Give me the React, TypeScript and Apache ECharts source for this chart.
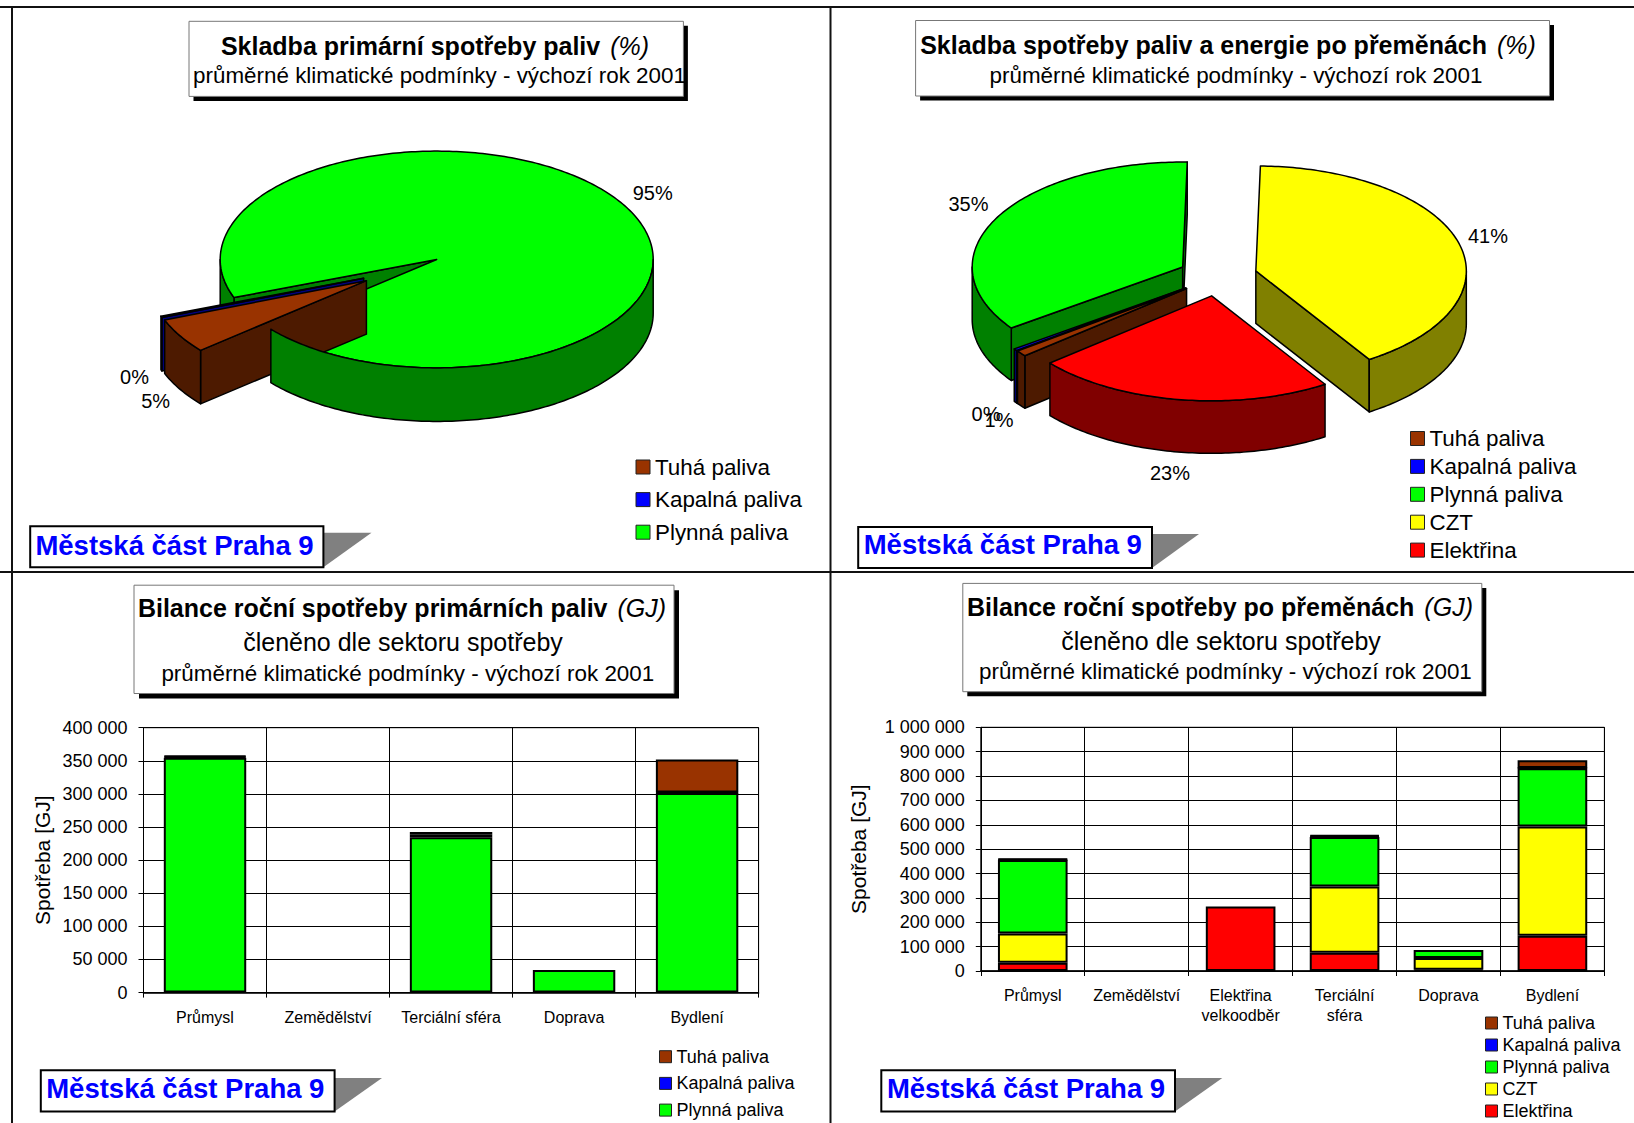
import React, { useEffect, useRef } from "react";
import * as echarts from "echarts";

// ---------- data ----------
const legendPrimary = ["Tuhá paliva", "Kapalná paliva", "Plynná paliva"];
const legendFinal = ["Tuhá paliva", "Kapalná paliva", "Plynná paliva", "CZT", "Elektřina"];

const pieNamesPrimary = ["Tuhá paliva", "Kapalná paliva", "Plynná paliva"];
const pieValuesPrimary = [5.2, 0.2, 94.6];
const pieNamesFinal = ["Tuhá paliva", "Kapalná paliva", "Plynná paliva", "CZT", "Elektřina"];
const pieValuesFinal = [0.9, 0.3, 35.2, 40.6, 23];

const sectorsPrimary = ["Průmysl", "Zemědělství", "Terciální sféra", "Doprava", "Bydlení"];
const primaryPlynna = [354500, null, 234500, 34000, 301500];
const primaryKapalna = [1500, null, 4000, null, 500];
const primaryTuha = [1500, null, 4000, null, 50000];

const sectorsFinal = ["Průmysl", "Zemědělství", "Elektřina\nvelkoodběr", "Terciální\nsféra", "Doprava", "Bydlení"];
const finalElektrina = [34000, null, 265000, 75000, 5000, 145000];
const finalCzt = [120000, null, null, 272000, 48000, 448000];
const finalPlynna = [301000, null, null, 203000, 33000, 239000];
const finalKapalna = [2500, null, null, 3000, null, 1000];
const finalTuha = [2500, null, null, 4000, null, 32000];

const titleMain = [
  "Skladba primární spotřeby paliv",
  "Skladba spotřeby paliv a energie po přeměnách",
  "Bilance roční spotřeby primárních paliv",
  "Bilance roční spotřeby po přeměnách",
];
const titleUnit = ["(%)", "(%)", "(GJ)", "(GJ)"];
const subClimate = "průměrné klimatické podmínky - výchozí rok 2001";
const subSector = "členěno dle sektoru spotřeby";
const badgeText = "Městská část Praha 9";
const axisName = "Spotřeba [GJ]";

// ---------- styles ----------
const FONT = '"Liberation Sans", Arial, sans-serif';
const TOP: Record<string, string> = {
  "Tuhá paliva": "#993300",
  "Kapalná paliva": "#0000ff",
  "Plynná paliva": "#00ff00",
  CZT: "#ffff00",
  "Elektřina": "#ff0000",
};
const SIDE: Record<string, string> = {
  "Tuhá paliva": "#4d1a00",
  "Kapalná paliva": "#000080",
  "Plynná paliva": "#008000",
  CZT: "#808000",
  "Elektřina": "#800000",
};

const pieA = {
  names: pieNamesPrimary, values: pieValuesPrimary,
  cx: 436.7, cy: 259.5, rx: 216.5, ry: 108.4, depth: 53.5, start: 230,
  explode: [82, 82, 0], dir: [239, 243, 0],
  layer: [3, 2, 1], wallLayer: [3, 2, 9],
  labels: [[155.6, 400.8], [134.5, 377], [652.7, 192.5]],
};
const pieB = {
  names: pieNamesFinal, values: pieValuesFinal,
  cx: 1217.7, cy: 276.3, rx: 210.5, ry: 105, depth: 52.5, start: 230.2,
  explode: [39.6, 39.6, 39.6, 39.6, 39.6], dir: [null, null, null, null, null],
  layer: [4, 3, 1, 2, 5], wallLayer: [4, 3, 1, 2, 5],
  labels: [[999, 420], [986, 414], [968.5, 203.5], [1488, 235.8], [1170, 473]],
};

const rad = (d: number) => (d * Math.PI) / 180;

function pieRenderer(p: any) {
  const total = p.values.reduce((a: number, b: number) => a + b, 0);
  return (params: any, api: any) => {
    const i = params.dataIndex;
    const v = api.value(0);
    let before = 0;
    for (let k = 0; k < i; k++) before += p.values[k];
    const a0 = p.start + (before / total) * 360;
    const a1 = a0 + (v / total) * 360;
    const mid = p.dir[i] == null ? (a0 + a1) / 2 : p.dir[i];
    const cx = p.cx + p.explode[i] * Math.sin(rad(mid));
    const cy = p.cy - (p.explode[i] * p.ry * Math.cos(rad(mid))) / p.rx;
    const pt = (a: number, dz = 0) => [cx + p.rx * Math.sin(rad(a)), cy - p.ry * Math.cos(rad(a)) + dz];
    const arc = (s: number, e: number, dz = 0) => {
      const out: number[][] = [];
      const n = Math.max(2, Math.ceil(Math.abs(e - s)));
      for (let j = 0; j <= n; j++) out.push(pt(s + ((e - s) * j) / n, dz));
      return out;
    };
    const name = p.names[i];
    const base = { stroke: "#000", lineWidth: 1.5, lineJoin: "round" };
    const side = { ...base, fill: SIDE[name] };
    const children: any[] = [];
    const z = p.layer[i] * 10;
    const cut = (a: number) => ({
      type: "polygon", z2: z,
      shape: { points: [[cx, cy], pt(a), pt(a, p.depth), [cx, cy + p.depth]] },
      style: side,
    });
    if (Math.sin(rad(a0)) < 0) children.push(cut(a0));
    if (Math.sin(rad(a1)) > 0) children.push(cut(a1));
    children.push({
      type: "polygon", z2: z + 2,
      shape: { points: [[cx, cy], ...arc(a0, a1)] },
      style: { ...base, fill: TOP[name] },
    });
    for (let k = -1; k <= 2; k++) {
      const s = Math.max(a0, 90 + 360 * k);
      const e = Math.min(a1, 270 + 360 * k);
      if (e > s) {
        const wallZ = e === a1 ? p.wallLayer[i] * 10 + 1 : z + 1;
        children.push({
          type: "polygon", z2: wallZ,
          shape: { points: [...arc(s, e), ...arc(s, e, p.depth).reverse()] },
          style: side,
        });
      }
    }
    children.push({
      type: "text", z2: 200,
      style: {
        text: `${Math.round(v)}%`, x: p.labels[i][0], y: p.labels[i][1],
        fontSize: 20, fontFamily: FONT, fill: "#000",
        textAlign: "center", textVerticalAlign: "middle",
      },
    });
    return { type: "group", children };
  };
}

function titleBox(x0: number, y0: number, x1: number, y1: number, shadow: number) {
  return [
    { type: "rect", z: 10, shape: { x: x0 + shadow, y: y0 + shadow, width: x1 - x0, height: y1 - y0 }, style: { fill: "#000" } },
    { type: "rect", z: 11, shape: { x: x0, y: y0, width: x1 - x0, height: y1 - y0 }, style: { fill: "#fff", stroke: "#777", lineWidth: 1 } },
  ];
}
function titleText(i: number, x: number, y: number) {
  return {
    type: "text", z: 12, x, y,
    style: {
      text: `{b|${titleMain[i]}}{s|  }{i|${titleUnit[i]}}`,
      textAlign: "center", textVerticalAlign: "middle",
      rich: {
        b: { fontSize: 25, fontWeight: "bold", fontFamily: FONT, fill: "#000" },
        s: { fontSize: 18, fontFamily: FONT },
        i: { fontSize: 25, fontStyle: "italic", fontFamily: FONT, fill: "#000" },
      },
    },
  };
}
function subText(t: string, size: number, x: number, y: number) {
  return {
    type: "text", z: 12, x, y,
    style: { text: t, fontSize: size, fontFamily: FONT, fill: "#000", textAlign: "center", textVerticalAlign: "middle" },
  };
}
function badge(x0: number, y0: number, x1: number, y1: number, triTop: number, triRight: number, tx: number, ty: number) {
  return [
    { type: "polygon", z: 10, shape: { points: [[x1, triTop], [triRight, triTop], [x1, y1]] }, style: { fill: "#808080" } },
    { type: "rect", z: 11, shape: { x: x0, y: y0, width: x1 - x0, height: y1 - y0 }, style: { fill: "#fff", stroke: "#000", lineWidth: 2 } },
    {
      type: "text", z: 12, x: tx, y: ty,
      style: { text: badgeText, fontSize: 27.5, fontWeight: "bold", fontFamily: FONT, fill: "#0000ff", textAlign: "center", textVerticalAlign: "middle" },
    },
  ];
}
function frameLine(x1: number, y1: number, x2: number, y2: number) {
  return { type: "line", z: 5, shape: { x1, y1, x2, y2 }, style: { stroke: "#111", lineWidth: 2 } };
}

const spaced = (v: number) => String(v).replace(/\B(?=(\d{3})+(?!\d))/g, " ");

function barSeries(name: string, data: any[], grid: number) {
  return {
    type: "bar", name, data, stack: `s${grid}`,
    xAxisIndex: grid, yAxisIndex: grid, barWidth: "67%",
    itemStyle: { color: TOP[name], borderColor: "#000", borderWidth: 2 },
  };
}
function legend(names: string[], left: number, top: number, size: number, item: number, gap: number) {
  return {
    data: names, orient: "vertical", left, top, padding: 0, icon: "rect",
    itemWidth: item, itemHeight: item, itemGap: gap, selectedMode: false,
    itemStyle: { borderColor: "#222", borderWidth: 1 },
    textStyle: { fontFamily: FONT, fontSize: size, color: "#000" },
  };
}
function xAxis(data: string[], grid: number, margin: number) {
  return {
    type: "category", data, gridIndex: grid,
    axisLine: { lineStyle: { color: "#000", width: 1.5 } },
    axisTick: { show: true, length: 5, lineStyle: { color: "#000" } },
    axisLabel: { fontFamily: FONT, fontSize: 16, color: "#000", margin, lineHeight: 20, interval: 0 },
    splitLine: { show: true, interval: 0, lineStyle: { color: "#000", width: 1 } },
  };
}
function yAxis(max: number, step: number, grid: number, nameGap: number) {
  return {
    type: "value", gridIndex: grid, min: 0, max, interval: step,
    name: axisName, nameLocation: "middle", nameGap,
    nameTextStyle: { fontFamily: FONT, fontSize: 21, color: "#000" },
    axisLine: { show: true, lineStyle: { color: "#000" } },
    axisTick: { show: true, length: 5, lineStyle: { color: "#000" } },
    axisLabel: { fontFamily: FONT, fontSize: 18, color: "#000", margin: 16, formatter: spaced },
    splitLine: { show: true, lineStyle: { color: "#000", width: 1 } },
  };
}

export default function App() {
  const ref = useRef<HTMLDivElement>(null);
  useEffect(() => {
    const chart = echarts.init(ref.current!, undefined, { renderer: "svg" });
    chart.setOption({
      animation: false,
      backgroundColor: "#fff",
      grid: [
        { left: 143.5, top: 727.7, width: 615.1, height: 264.9, show: true, borderColor: "#000", borderWidth: 1, backgroundColor: "transparent" },
        { left: 980.8, top: 727.3, width: 623.6, height: 243.7, show: true, borderColor: "#000", borderWidth: 1, backgroundColor: "transparent" },
      ],
      xAxis: [xAxis(sectorsPrimary, 0, 14.5), xAxis(sectorsFinal, 1, 14)],
      yAxis: [yAxis(400000, 50000, 0, 91), yAxis(1000000, 100000, 1, 112)],
      legend: [
        legend(legendPrimary, 635.5, 456, 22.4, 14, 10.6),
        legend(legendFinal, 1410, 427.5, 22.4, 14, 5.9),
        legend(legendPrimary, 659, 1047.7, 18, 12, 8.7),
        legend(legendFinal, 1485, 1014, 18, 12, 4),
      ],
      series: [
        barSeries("Plynná paliva", primaryPlynna, 0),
        barSeries("Kapalná paliva", primaryKapalna, 0),
        barSeries("Tuhá paliva", primaryTuha, 0),
        barSeries("Elektřina", finalElektrina, 1),
        barSeries("CZT", finalCzt, 1),
        barSeries("Plynná paliva", finalPlynna, 1),
        barSeries("Kapalná paliva", finalKapalna, 1),
        barSeries("Tuhá paliva", finalTuha, 1),
        { type: "custom", coordinateSystem: "none", silent: true, data: pieA.values, renderItem: pieRenderer(pieA) },
        { type: "custom", coordinateSystem: "none", silent: true, data: pieB.values, renderItem: pieRenderer(pieB) },
      ],
      graphic: {
        elements: [
          frameLine(0, 7, 1634, 7),
          frameLine(12, 7, 12, 1123),
          frameLine(830.5, 7, 830.5, 1123),
          frameLine(0, 572, 1634, 572),

          ...titleBox(189, 21.3, 683.4, 96.4, 4.5),
          titleText(0, 435, 45.8),
          subText(subClimate, 22.4, 439.5, 75.3),
          ...titleBox(915.6, 20.5, 1549.5, 96, 4.5),
          titleText(1, 1228, 44.7),
          subText(subClimate, 22.4, 1236, 75),
          ...titleBox(134, 585.2, 674, 693.5, 5),
          titleText(2, 402, 608),
          subText(subSector, 25, 403, 642),
          subText(subClimate, 22.4, 407.8, 673.6),
          ...titleBox(962.8, 583.4, 1481.8, 691.7, 4.5),
          titleText(3, 1220, 606.7),
          subText(subSector, 25, 1221, 640.5),
          subText(subClimate, 22.4, 1225.4, 671.6),

          ...badge(30.2, 526.2, 323.4, 567.3, 532.8, 371.5, 174.5, 545),
          ...badge(858.2, 527, 1152, 568, 534, 1199, 1002.8, 544.6),
          ...badge(40.8, 1070.2, 334.6, 1111.5, 1078, 382, 185.3, 1088.5),
          ...badge(881.3, 1070.2, 1175, 1111.5, 1078, 1222.3, 1026, 1088.5),
        ],
      },
    });
    return () => chart.dispose();
  }, []);
  return <div ref={ref} style={{ position: "fixed", left: 0, top: 0, width: 1634, height: 1123 }} />;
}
